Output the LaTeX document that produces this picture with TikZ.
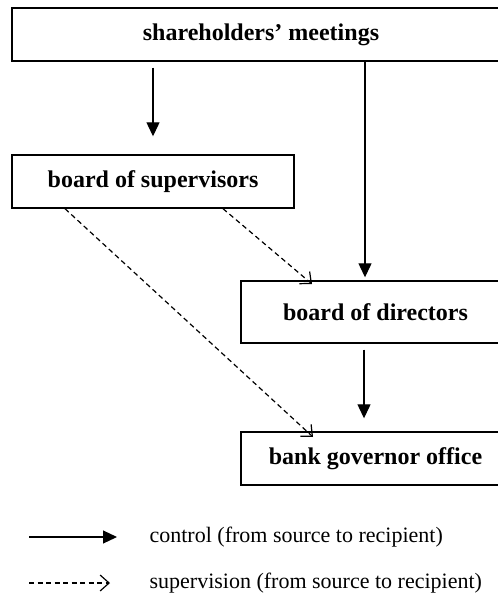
\documentclass[tikz,border=0pt]{standalone}
\usepackage{fontspec}
\setmainfont{Liberation Serif}
\usetikzlibrary{arrows.meta, positioning}

\begin{document}
\begin{tikzpicture}[x=0.5pt, y=-0.5pt, line width=0.6pt,
  box/.style={draw, line width=0.7pt, inner sep=0pt, minimum height=26.5pt, font=\fontsize{12}{14}\selectfont\bfseries},
  ctrl/.style={-{Triangle[length=7pt, width=6.5pt]}},
  superv/.style={-{Straight Barb[length=4.5pt, width=8pt]}, dash pattern=on 2.5pt off 1.75pt},
  legtext/.style={anchor=west, inner sep=0pt, font=\fontsize{11}{13}\selectfont}]
\useasboundingbox (0,0) rectangle (497,597);

%Top
\node (meet) at (261,34.5) [box, minimum width=249pt] {shareholders’ meetings};

%Middle
\node (sup) at (153,181.5) [box, minimum width=141pt] {board of supervisors};
\node (dir) at (375.5,312) [box, minimum width=134.5pt, minimum height=31pt] {board of directors};

%Bottom
\node (bank) at (375.5,458.5) [box, minimum width=134.5pt] {bank governor office};

\coordinate (cx) at (365,0);
\coordinate (cy) at (364,0);
\coordinate (s1) at (65,0);
\coordinate (s2) at (223,0);
\coordinate (t1) at (312,284);
\coordinate (t2) at (313,437);

\draw[ctrl, shorten <=3pt, shorten >=9pt] (meet.south -| sup) -- (sup.north);
\draw[ctrl, shorten >=1.5pt] (meet.south -| cx) -- (dir.north -| cx);
\draw[ctrl, shorten <=3pt, shorten >=6.5pt] (dir.south -| cy) -- (bank.north -| cy);

\draw[superv] (sup.south -| s2) -- (t1);
\draw[superv] (sup.south -| s1) -- (t2);

%Legend
\coordinate (lc) at (29,537);
\coordinate (ls) at (29,583);
\node (ctrltxt) at (149,537) [legtext] {control (from source to recipient)};
\node (supvtxt) at (149,583) [legtext] {supervision (from source to recipient)};
\draw[ctrl, shorten >=16pt] (lc) -- (ctrltxt.west);
\draw[superv, shorten >=19.5pt] (ls) -- (supvtxt.west);
\end{tikzpicture}
\end{document}
